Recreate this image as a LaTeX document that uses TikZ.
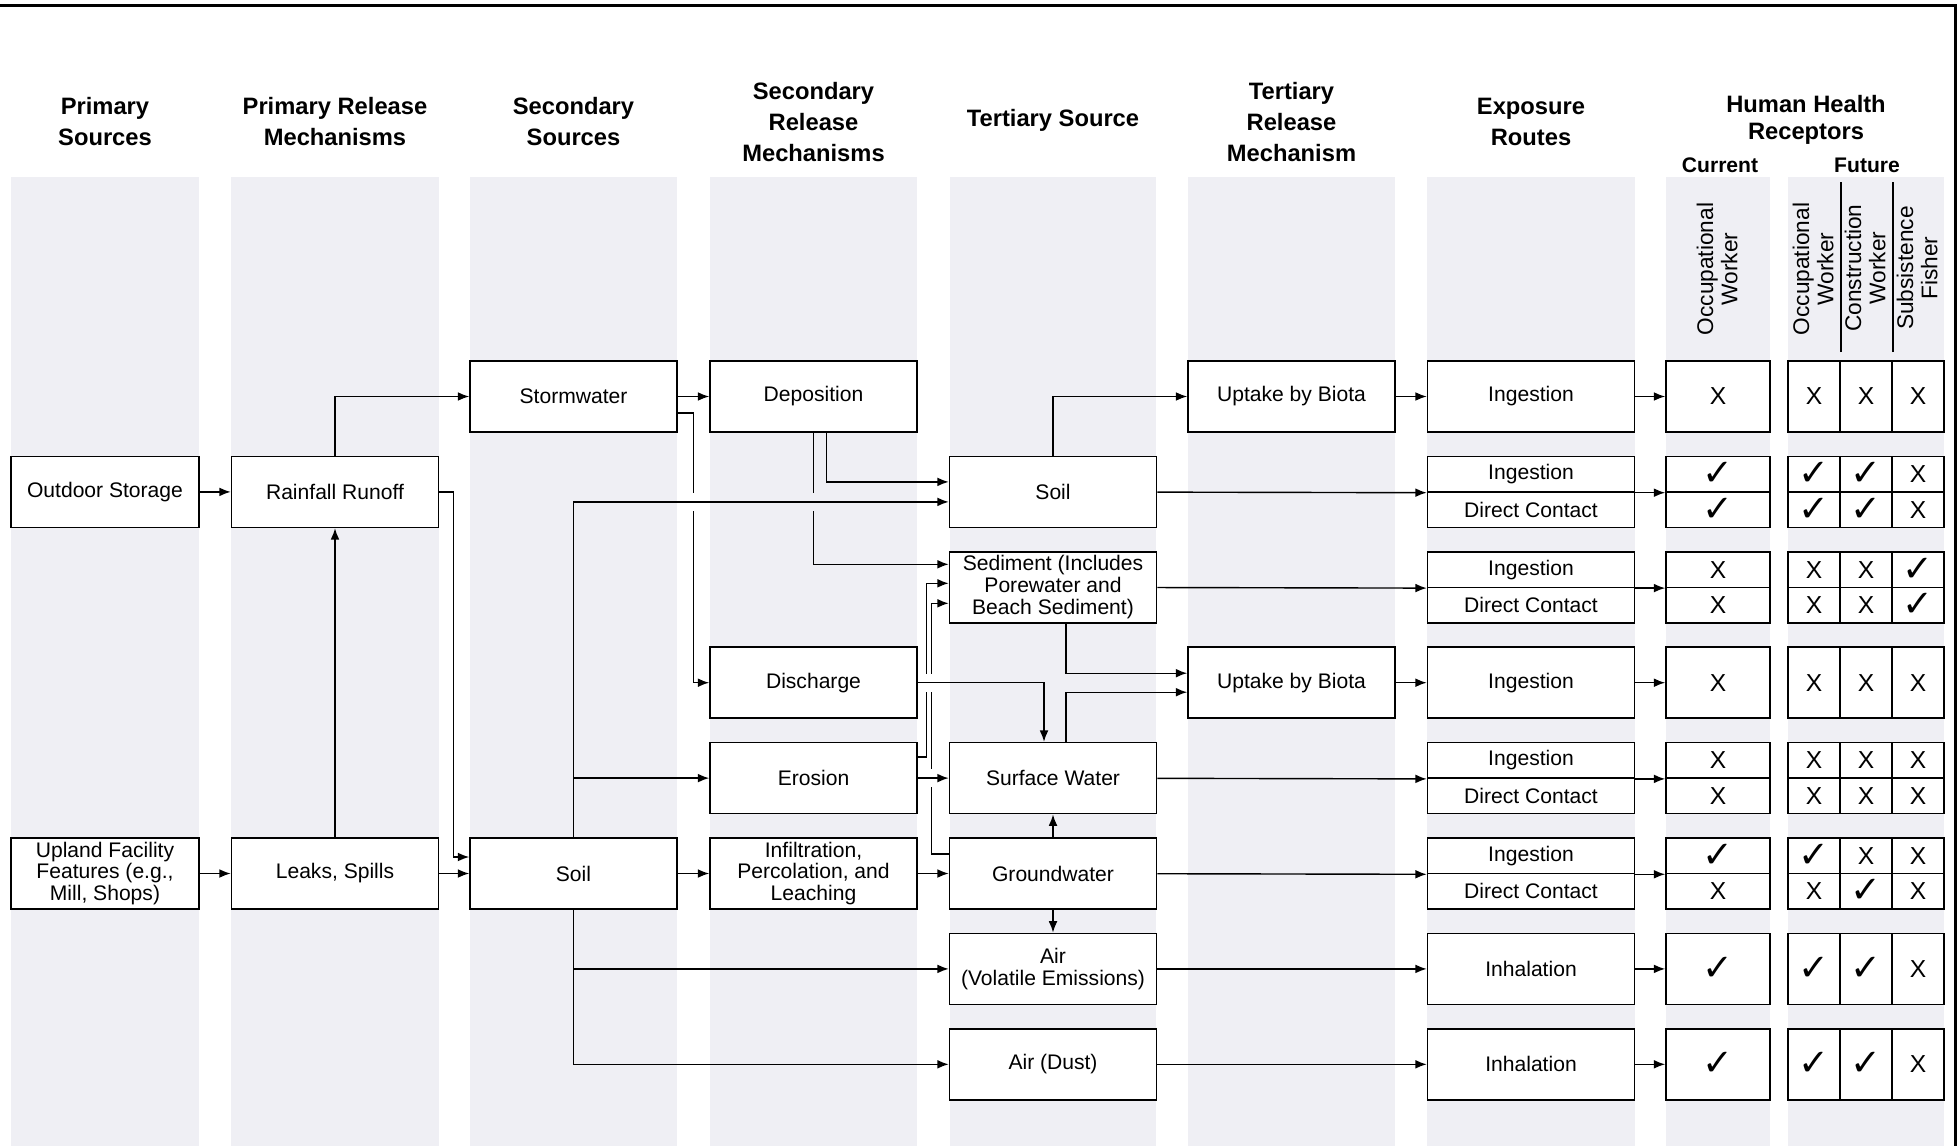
\documentclass[tikz,border=0pt]{standalone}
\usepackage{fontspec}
\setmainfont{Liberation Sans}
\newfontfamily\checkfont{DejaVu Sans}
\usetikzlibrary{arrows.meta,calc}

\definecolor{bandgray}{RGB}{239,239,244}
\newcommand{\mkx}{X}
\newcommand{\mkok}{{\checkfont\fontsize{21}{21}\selectfont ✓}}

\tikzset{
  box/.style={draw, fill=white, line width=0.9pt, minimum width=4.14cm, minimum height=1.42cm,
    inner sep=0pt, align=center, font=\fontsize{12}{12.5}\selectfont},
  halfbox/.style={box, minimum height=0.71cm},
  cur/.style={box, minimum width=2.08cm, font=\fontsize{14}{14}\selectfont},
  halfcur/.style={cur, minimum height=0.71cm},
  fut/.style={cur, minimum width=1.04cm},
  halffut/.style={fut, minimum height=0.71cm},
  head/.style={align=center, font=\fontsize{13.5}{17.6}\selectfont\bfseries},
  role/.style={rotate=90, align=center, font=\fontsize{12.9}{13.8}\selectfont},
  wire/.style={line width=0.8pt},
  arr/.style={wire, -{Latex[length=6.5pt,width=5pt]}},
}

\begin{document}
\begin{tikzpicture}[x=0.02cm, y=-0.02cm]
\useasboundingbox (0,0) rectangle (1959,1146);

\foreach \a/\b in {11/199, 231/439, 470/677, 710/917, 950/1156, 1188/1395, 1427/1635, 1666/1770, 1788/1944}
  \fill[bandgray] (\a,177) rectangle (\b,1146);
\draw[line width=1.7pt] (0,5.5) -- (1955.5,5.5) -- (1955.5,1146);

\node[head] (h1) at (105,121.8) {Primary\\Sources};
\node[head] (h2) at (335,121.8) {Primary Release\\Mechanisms};
\node[head] (h3) at (573.5,121.8) {Secondary\\Sources};
\node[head] (h4) at (813.5,122.4) {Secondary\\Release\\Mechanisms};
\node[head] (h5) at (1053,120) {Tertiary Source};
\node[head] (h6) at (1291.5,122.4) {Tertiary\\Release\\Mechanism};
\node[head] (h7) at (1531,121.8) {Exposure\\Routes};
\node[head, font=\fontsize{13.5}{15.6}\selectfont\bfseries] (h8) at (1806,120) {Human Health\\Receptors};
\node[head, font=\fontsize{12}{12}\selectfont\bfseries] (hcur) at (1720,165) {Current};
\node[head, font=\fontsize{12}{12}\selectfont\bfseries] (hfut) at (1867,165) {Future};

\node[role] (rcur) at (1717,269) {Occupational\\Worker};
\node[role] (rfut1) at (1813,269) {Occupational\\Worker};
\node[role] (rfut2) at (1865,268) {Construction\\Worker};
\node[role] (rfut3) at (1917,268) {Subsistence\\Fisher};

% sources and release mechanisms
\node[box, minimum width=3.76cm] (os) at (105,491.9) {Outdoor Storage};
\node[box, minimum width=3.76cm] (uf) at (105,873.5) {Upland Facility\\Features (e.g.,\\Mill, Shops)};
\node[box] (rr) at (335,491.9) {Rainfall Runoff};
\node[box] (ls) at (335,873.5) {Leaks, Spills};
\node[box] (sw) at (573.5,396.5) {Stormwater};
\node[box] (soilA) at (573.5,873.5) {Soil};
\node[box] (dep) at (813.5,396.5) {Deposition};
\node[box] (dis) at (813.5,682.7) {Discharge};
\node[box] (ero) at (813.5,778.1) {Erosion};
\node[box] (inf) at (813.5,873.5) {Infiltration,\\Percolation, and\\Leaching};

% tertiary sources
\node[box] (soilB) at (1053,491.9) {Soil};
\node[box] (sed) at (1053,587.3) {Sediment (Includes\\Porewater and\\Beach Sediment)};
\node[box] (surf) at (1053,778.1) {Surface Water};
\node[box] (gw) at (1053,873.5) {Groundwater};
\node[box] (airv) at (1053,968.9) {Air\\(Volatile Emissions)};
\node[box] (aird) at (1053,1064.3) {Air (Dust)};
\node[box] (uptA) at (1291.5,396.5) {Uptake by Biota};
\node[box] (uptD) at (1291.5,682.7) {Uptake by Biota};

% exposure routes and receptors
\node[box] (exA) at (1531,396.5) {Ingestion};
\node[cur] (curA) at (1718,396.5) {\mkx};
\foreach \m [count=\i] in {\mkx,\mkx,\mkx}
  \node[fut] (futA\i) at (1762+52*\i,396.5) {\m};

\node[halfbox] (exB1) at (1531,474.15) {Ingestion};
\node[halfbox] (exB2) at (1531,509.65) {Direct Contact};
\node[halfcur] (curB1) at (1718,474.15) {\mkok};
\node[halfcur] (curB2) at (1718,509.65) {\mkok};
\foreach \m [count=\i] in {\mkok,\mkok,\mkx}
  \node[halffut] (futB\i) at (1762+52*\i,474.15) {\m};
\foreach \m [count=\i] in {\mkok,\mkok,\mkx}
  \node[halffut] (futBb\i) at (1762+52*\i,509.65) {\m};

\node[halfbox] (exC1) at (1531,569.55) {Ingestion};
\node[halfbox] (exC2) at (1531,605.05) {Direct Contact};
\node[halfcur] (curC1) at (1718,569.55) {\mkx};
\node[halfcur] (curC2) at (1718,605.05) {\mkx};
\foreach \m [count=\i] in {\mkx,\mkx,\mkok}
  \node[halffut] (futC\i) at (1762+52*\i,569.55) {\m};
\foreach \m [count=\i] in {\mkx,\mkx,\mkok}
  \node[halffut] (futCb\i) at (1762+52*\i,605.05) {\m};

\node[box] (exD) at (1531,682.7) {Ingestion};
\node[cur] (curD) at (1718,682.7) {\mkx};
\foreach \m [count=\i] in {\mkx,\mkx,\mkx}
  \node[fut] (futD\i) at (1762+52*\i,682.7) {\m};

\node[halfbox] (exE1) at (1531,760.35) {Ingestion};
\node[halfbox] (exE2) at (1531,795.85) {Direct Contact};
\node[halfcur] (curE1) at (1718,760.35) {\mkx};
\node[halfcur] (curE2) at (1718,795.85) {\mkx};
\foreach \m [count=\i] in {\mkx,\mkx,\mkx}
  \node[halffut] (futE\i) at (1762+52*\i,760.35) {\m};
\foreach \m [count=\i] in {\mkx,\mkx,\mkx}
  \node[halffut] (futEb\i) at (1762+52*\i,795.85) {\m};

\node[halfbox] (exF1) at (1531,855.75) {Ingestion};
\node[halfbox] (exF2) at (1531,891.25) {Direct Contact};
\node[halfcur] (curF1) at (1718,855.75) {\mkok};
\node[halfcur] (curF2) at (1718,891.25) {\mkx};
\foreach \m [count=\i] in {\mkok,\mkx,\mkx}
  \node[halffut] (futF\i) at (1762+52*\i,855.75) {\m};
\foreach \m [count=\i] in {\mkx,\mkok,\mkx}
  \node[halffut] (futFb\i) at (1762+52*\i,891.25) {\m};

\node[box] (exG) at (1531,968.9) {Inhalation};
\node[cur] (curG) at (1718,968.9) {\mkok};
\foreach \m [count=\i] in {\mkok,\mkok,\mkx}
  \node[fut] (futG\i) at (1762+52*\i,968.9) {\m};

\node[box] (exH) at (1531,1064.3) {Inhalation};
\node[cur] (curH) at (1718,1064.3) {\mkok};
\foreach \m [count=\i] in {\mkok,\mkok,\mkx}
  \node[fut] (futH\i) at (1762+52*\i,1064.3) {\m};

\draw[wire] ($(futA1.north east)+(0,-8)$) -- ++(0,-170);
\draw[wire] ($(futA2.north east)+(0,-8)$) -- ++(0,-170);

% connectors
\draw[arr] (os) -- (rr);
\draw[arr] (uf) -- (ls);
\draw[arr] (ls) -- (rr);
\draw[arr] (rr.north) |- (sw);
\draw[arr] (rr.east) -- ++(14,0) |- ($(soilA.west)+(0,-16.5)$);
\draw[arr] (ls) -- (soilA);
\draw[arr] (sw) -- (dep);
\draw[arr] ($(sw.east)+(0,16.5)$) -- ++(16,0) |- (dis);
\draw[arr] (soilA.north) |- (ero);
\draw[arr] (soilA) -- (inf);
\draw[arr] (soilA.south) |- (airv);
\draw[arr] (soilA.south) |- (aird);
\draw[arr] ($(dep.south)+(13,0)$) |- ($(soilB.west)+(0,-10)$);
\draw[arr] (dep.south) |- ($(sed.west)+(0,-23)$);
\draw[arr] ($(ero.east)+(0,-21)$) -- ++(8.5,0) |- ($(sed.west)+(0,-4)$);
\draw[arr] ($(gw.west)+(0,-19.5)$) -- ++(-17,0) |- ($(sed.west)+(0,16)$);
\draw[arr] (inf) -- (gw);

% line jumps
\fill[white] ($(dis.west |- soilB.west)+(-20,1)$) rectangle ++(6,18);
\fill[bandgray] ($(dep.south |- soilB.west)+(-3,1)$) rectangle ++(6,18);
\fill[white] ($(dis.east)+(5,-9)$) rectangle ++(14,18);
\fill[white] ($(ero.east)+(13,-9)$) rectangle ++(6,18);

\draw[arr] (soilA.north) |- ($(soilB.west)+(0,10)$);
\draw[arr] (dis) -| ($(surf.north)+(-9,0)$);
\draw[arr] (ero) -- (surf);

\draw[arr] (soilB.north) |- (uptA);
\draw[arr] ($(sed.south)+(13,0)$) |- ($(uptD.west)+(0,-9.5)$);
\draw[arr] ($(surf.north)+(13,0)$) |- ($(uptD.west)+(0,9.5)$);
\draw[arr] (gw) -- (surf);
\draw[arr] (gw) -- (airv);

\draw[arr] (uptA) -- (exA);
\draw[arr] (soilB) -- (exB1.south west);
\draw[arr] (sed) -- (exC1.south west);
\draw[arr] (uptD) -- (exD);
\draw[arr] (surf) -- (exE1.south west);
\draw[arr] (gw) -- (exF1.south west);
\draw[arr] (airv) -- (exG);
\draw[arr] (aird) -- (exH);

\draw[arr] (exA) -- (curA);
\draw[arr] (exB1.south east) -- (curB1.south west);
\draw[arr] (exC1.south east) -- (curC1.south west);
\draw[arr] (exD) -- (curD);
\draw[arr] (exE1.south east) -- (curE1.south west);
\draw[arr] (exF1.south east) -- (curF1.south west);
\draw[arr] (exG) -- (curG);
\draw[arr] (exH) -- (curH);
\end{tikzpicture}
\end{document}
